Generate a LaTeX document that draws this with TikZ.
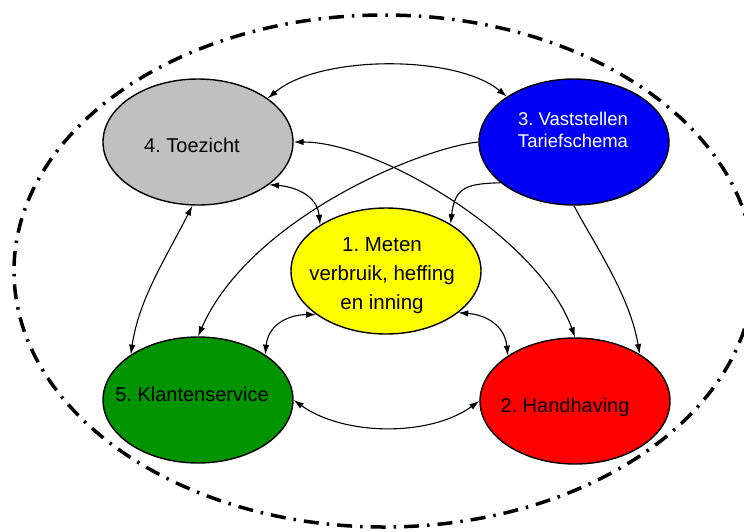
\documentclass[tikz,border=0pt]{standalone}
\usepackage{fontspec}
\setmainfont{Liberation Sans}
\frenchspacing
\usetikzlibrary{shapes.geometric,arrows.meta}
\definecolor{grijs}{RGB}{192,192,192}
\definecolor{blauw}{RGB}{0,0,245}
\definecolor{geel}{RGB}{255,255,0}
\definecolor{groen}{RGB}{0,148,0}
\definecolor{rood}{RGB}{255,0,0}
\tikzset{
  proces/.style={ellipse,draw,line width=1.4pt,minimum width=190pt,minimum height=126pt,inner sep=0pt},
  tekst/.style={inner sep=0pt,align=center,font=\fontsize{20}{29}\selectfont},
  pijl/.style={line width=1.1pt}
}
\begin{document}
\begin{tikzpicture}[x=1pt,y=-1pt,>={Latex[length=10pt,width=6.5pt]}]
\useasboundingbox (0,0) rectangle (744,531);
\clip (0,0) rectangle (744,531);
% grens
\draw[line width=3.5pt,dash pattern=on 15pt off 8pt on 2.5pt off 8pt] (384,271) ellipse [x radius=370pt,y radius=256pt];

% processen
\node[proces,fill=geel] (n1) at (386,271) {};
\node[proces,fill=rood] (n2) at (575,401) {};
\node[proces,fill=blauw] (n3) at (574,142) {};
\node[proces,fill=grijs] (n4) at (198,142) {};
\node[proces,fill=groen] (n5) at (198,400) {};

\node[tekst,font=\fontsize{20.5}{29}\selectfont] (t1) at (382,276) {1. Meten\\verbruik, heffing\\en inning};
\node[tekst,anchor=base] (t2) at (565,412) {2. Handhaving};
\node[tekst,text=white,font=\fontsize{18.5}{21.6}\selectfont] (t3) at (573,130) {3. Vaststellen\\Tariefschema};
\node[tekst,anchor=base] (t4) at (192,152) {4. Toezicht};
\node[tekst,anchor=base] (t5) at (192,401) {5. Klantenservice};

% relaties
\draw[pijl,<->] (n4.32) .. controls +(52,-44) and +(-50,-42) .. (n3.146);
\draw[pijl,<->] (n4.east) .. controls +(87,0) and +(-35,-98) .. (n2.north);
\draw[pijl,->] (n3.west) .. controls +(-58,6) and +(52,-118) .. (n5.north);
\draw[pijl,->] (n3.209) .. controls +(-32,1) and +(4,-38) .. (n1.36);
\draw[pijl,->] (n3.south) .. controls +(18,35) and +(-10,-60) .. (n2.36);
\draw[pijl,<->] (n4.-31) .. controls +(25,2) and +(-3,-30) .. (n1.145);
\draw[pijl,<->] (n4.265) .. controls +(-28,55) and +(8,-55) .. (n5.146);
\draw[pijl,<->] (n1.212) .. controls +(-28,0) and +(3,-30) .. (n5.34);
\draw[pijl,<->] (n1.-30) .. controls +(28,2) and +(-3,-30) .. (n2.146);
\draw[pijl,<->] (n5.east) .. controls +(50,36) and +(-50,36) .. (n2.west);
\end{tikzpicture}
\end{document}
